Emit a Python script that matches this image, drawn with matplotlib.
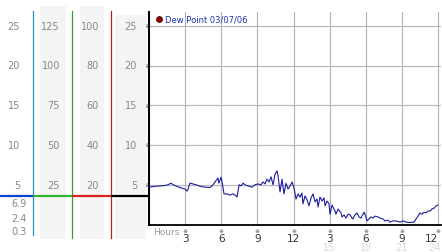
#!/usr/bin/env python3
"""Dew point trace for 03/07/06 with the multi-scale side panel."""

import matplotlib
matplotlib.use("Agg")
import matplotlib.pyplot as plt
import matplotlib.transforms as mtransforms

# --- data ------------------------------------------------------------------
hours = [0.0, 0.5, 0.9, 1.33, 1.58, 1.83, 2.0, 2.24, 2.57, 3.0, 3.16, 3.24, 3.4,
         3.65, 3.9, 4.24, 4.65, 5.07, 5.32, 5.48, 5.73, 5.81, 5.98, 6.06, 6.23,
         6.48, 6.73, 6.98, 7.23, 7.31, 7.48, 7.64, 7.81, 7.97, 8.22, 8.55, 8.8,
         9.05, 9.3, 9.47, 9.63, 9.8, 9.97, 10.13, 10.3, 10.47, 10.63, 10.71,
         10.88, 11.05, 11.21, 11.38, 11.55, 11.71, 11.88, 12.04, 12.21, 12.38,
         12.54, 12.7, 12.79, 12.96, 13.12, 13.29, 13.46, 13.62, 13.79, 13.95,
         14.04, 14.2, 14.37, 14.53, 14.62, 14.78, 14.95, 15.03, 15.2, 15.28,
         15.45, 15.53, 15.7, 15.95, 16.03, 16.2, 16.36, 16.53, 16.7, 16.86,
         16.94, 17.1, 17.28, 17.44, 17.6, 17.77, 17.86, 18.02, 18.1, 18.27,
         18.44, 18.6, 18.77, 19.02, 19.19, 19.44, 19.6, 19.85, 20.0, 20.27,
         20.5, 20.85, 21.1, 21.35, 21.68, 22.0, 22.18, 22.34, 22.5, 22.67,
         22.84, 23.0, 23.17, 23.34, 23.5, 23.67, 23.84, 24.0]
dew_point = [4.7, 4.8, 4.85, 4.9, 5.0, 5.2, 5.0, 4.85, 4.65, 4.45, 4.2, 4.45, 5.2,
             5.1, 5.0, 4.8, 4.7, 4.65, 5.0, 5.35, 5.85, 5.2, 5.95, 5.45, 3.85,
             3.85, 3.7, 3.85, 3.6, 3.45, 5.0, 4.85, 5.2, 5.0, 4.85, 4.7, 5.0,
             5.1, 5.0, 5.35, 5.1, 5.7, 5.35, 6.0, 5.0, 6.35, 6.75, 6.2,
             4.1, 5.7, 3.85, 5.2, 4.45, 4.85, 5.35, 4.6, 3.2, 3.85,
             3.45, 3.95, 2.6, 3.6, 3.1, 2.35, 3.35, 3.85, 2.85, 3.2,
             2.2, 3.45, 2.95, 3.35, 2.35, 2.95, 2.6, 1.3, 2.45, 2.2,
             1.7, 1.3, 1.95, 1.45, 0.95, 1.2, 0.8, 1.3, 1.2, 0.8,
             0.7, 1.2, 1.45, 0.95, 0.8, 1.3, 1.55, 0.95, 0.45, 0.7,
             0.95, 0.8, 1.05, 0.95, 0.8, 0.7, 0.45, 0.55, 0.3, 0.45,
             0.45, 0.3, 0.45, 0.3, 0.25, 0.3, 0.7, 1.05, 1.45, 1.3,
             1.55, 1.45, 1.7, 1.7, 1.95, 2.05, 2.35, 2.45]

legend_label = "Dew Point 03/07/06"
hour_ticks = [3, 6, 9, 12, 15, 18, 21, 24]
hour_labels = ["3", "6", "9", "12", "3", "6", "9", "12"]
late_labels = ["15", "18", "21", "24"]
level_ticks = [5, 10, 15, 20, 25]
scale_a = ["5", "10", "15", "20", "25"]
scale_b = ["25", "50", "75", "100", "125"]
scale_c = ["20", "40", "60", "80", "100"]
scale_d = ["5", "10", "15", "20", "25"]
summary = ["6.9", "2.4", "0.3"]   # max / current / min
marker_level = 3.58

# --- layout (pixels) --------------------------------------------------------
W, H = 442, 253
x0, x1 = 149, 441
y_top, y_zero = 13, 225.5
px_per_unit = 7.95
px_per_hour = (438 - 149) / 24

fig = plt.figure(figsize=(W / 100, H / 100), dpi=100)
ax = fig.add_axes([x0 / W, (H - y_zero) / H, (x1 - x0) / W, (y_zero - y_top) / H])
ax.set_zorder(1)
ax.set_xlim(0, (x1 - x0) / px_per_hour)
ax.set_ylim(0, (y_zero - y_top) / px_per_unit)

grid_c = "#b8b8b8"
for h in hour_ticks:
    ax.axvline(h, color=grid_c, lw=0.9, zorder=1)
for v in level_ticks:
    ax.axhline(v, color=grid_c, lw=0.9, zorder=1)

ax.plot(hours, dew_point, color="#1c1ca0", lw=0.8, zorder=3)

for s in ("top", "right"):
    ax.spines[s].set_visible(False)
ax.spines["left"].set_linewidth(1.5)
ax.spines["bottom"].set_linewidth(1.3)
ax.set_yticks([])
ax.set_xticks(hour_ticks)
ax.set_xticklabels(hour_labels, fontsize=7.5, color="#333333")
ax.tick_params(axis="x", length=0, pad=6)
ax.get_xticklabels()[-1].set_horizontalalignment("right")
ax.get_xticklabels()[-1].set_x(24.2)

# little tick glyphs
for h in hour_ticks:
    ax.annotate("※", (h, 0), xytext=(0, -4.3), textcoords="offset points",
                ha="center", va="center", fontsize=4.3, color="#444444",
                annotation_clip=False)
for v in level_ticks:
    ax.annotate("※", (0, v), xytext=(-1.5, 0), textcoords="offset points",
                ha="center", va="center", fontsize=4.3, color="#444444",
                annotation_clip=False)
for h, lab in zip(hour_ticks[4:], late_labels):
    last = h == hour_ticks[-1]
    ax.annotate(lab, (h + (0.2 if last else 0), 0), xytext=(0, -16.5),
                textcoords="offset points", ha="right" if last else "center",
                va="center", fontsize=7, color="#dadada", annotation_clip=False)
ax.annotate("Hours", (0, 0), xytext=(3, -5), textcoords="offset points",
            ha="left", va="center", fontsize=6.5, color="#999999",
            annotation_clip=False)

# legend
ax.plot([0.85], [(y_zero - 20) / px_per_unit], marker="o", ms=4.2,
        mfc="#9a0000", mec="#300000", mew=0.6, clip_on=False, zorder=4)
ax.text(1.3, (y_zero - 20) / px_per_unit, legend_label, fontsize=6.0,
        color="#2030b0", va="center", ha="left")

# --- left scale panel (pixel coords on x, value coords on y) ---------------
ov = fig.add_axes([0, 0, 1, 1])
ov.set_zorder(2)
ov.patch.set_visible(False)
ov.set_xlim(0, W)
ov.set_ylim(H, 0)
ov.axis("off")

shade = "#f4f4f4"
for xa, xb, ya in [(40, 66, 7), (80, 104, 7), (115, 146, 16)]:
    ov.fill_between([xa, xb], ya, 240, color=shade, lw=0, zorder=0)

for xv, col, yb in [(33, "#2a8fc8", 236), (72, "#33a033", 239), (111, "#b22222", 239)]:
    ov.plot([xv, xv], [12, yb], color=col, lw=0.9, zorder=1)

for xa, xb, col in [(0, 33, "#1040d8"), (33, 72, "#30b830"),
                    (72, 111, "#e02020"), (111, 149, "#000000")]:
    ov.plot([xa, xb], [y_zero - marker_level * px_per_unit] * 2,
            color=col, lw=1.6, solid_capstyle="butt", zorder=2)

blend = mtransforms.blended_transform_factory(ov.transData, ax.transData)
lab_c = "#888888"
for right, labels in [(20, scale_a), (60, scale_b), (99, scale_c), (137, scale_d)]:
    for v, lab in zip(level_ticks, labels):
        ov.text(right, v, lab, transform=blend, ha="right", va="center",
                fontsize=7, color=lab_c)

for y, lab in zip([204, 219, 232], summary):
    ov.text(27, y, lab, ha="right", va="center", fontsize=7, color=lab_c)

plt.savefig("out.png", dpi=100)
